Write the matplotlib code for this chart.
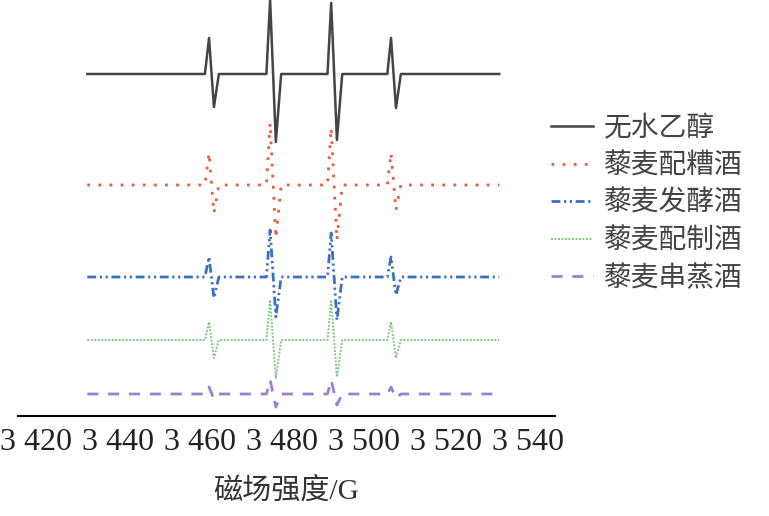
import matplotlib
matplotlib.use("Agg")
import matplotlib.pyplot as plt

plt.rcParams['font.family'] = ['Liberation Serif', 'Noto Sans CJK SC', 'DejaVu Sans']

# field positions (G) of the key points of the quartet
field = [3432.5,
         3461.2, 3462.2, 3463.4, 3464.6,
         3476.2, 3477.1, 3478.5, 3479.8,
         3491.1, 3492.0, 3493.4, 3494.7,
         3505.7, 3506.6, 3507.8, 3509.0,
         3533.0]

names = ['无水乙醇', '藜麦配糟酒', '藜麦发酵酒', '藜麦配制酒', '藜麦串蒸酒']

# signal amplitude relative to baseline (arb. units)
ethanol   = [0, 0, 36, -33, 0, 0, 74, -68, 0, 0, 71, -66, 0, 0, 36, -34, 0, 0]
peizao    = [0, 0, 32, -28, 0, 0, 62, -53, 0, 0, 57, -55, 0, 0, 32, -25, 0, 0]
fajiao    = [0, 0, 20, -21, 0, 0, 47, -40, 0, 0, 44, -43, 0, 0, 20, -18, 0, 0]
peizhi    = [0, 0, 18, -18, 0, 0, 40, -38, 0, 0, 40, -37, 0, 0, 18, -18, 0, 0]
chuanzheng = [0, 0, 7, -5, 0, 0, 14, -13, 0, 0, 14, -11, 0, 0, 7, -4, 0, 0]

series = [ethanol, peizao, fajiao, peizhi, chuanzheng]

xticks = [3420, 3440, 3460, 3480, 3500, 3520, 3540]
xticklabels = ['3 420', '3 440', '3 460', '3 480', '3 500', '3 520', '3 540']

offsets = [342, 231, 139, 76, 22]
colors = ['#454545', '#ee5a3c', '#3d6fc2', '#84c784', '#9a82cf']
styles = ['-', (0, (1, 3)), (0, (3.2, 1.3, 0.8, 1.3, 0.8, 1.3)), (0, (1, 0.8)), (0, (4, 3.5))]
widths = [1.8, 2.0, 2.0, 1.4, 2.0]

fig = plt.figure(figsize=(7.69, 5.16), dpi=100)
ax = fig.add_axes([18/769, 1 - 416/516, (555-18)/769, 416/516])

for vals, off, c, ls, lw, name in zip(series, offsets, colors, styles, widths, names):
    ax.plot(field, [v + off for v in vals], color=c, linestyle=ls, lw=lw,
            label=name, clip_on=False)

ax.set_xlim(3415.6, 3546.6)
ax.set_ylim(0, 416)
for s in ['top', 'right', 'left']:
    ax.spines[s].set_visible(False)
ax.spines['bottom'].set_linewidth(1.5)
ax.set_yticks([])
ax.set_xticks(xticks)
ax.set_xticklabels(xticklabels, fontsize=23, color='#222222')
ax.tick_params(axis='x', length=0, pad=9)
ax.set_xlabel('磁场强度/G', fontsize=21, color='#333333', labelpad=14)

leg = fig.legend(loc='center left', bbox_to_anchor=(551/769, 1 - 203/516),
                 frameon=False, borderpad=0, borderaxespad=0,
                 handlelength=1.5, handletextpad=0.4, labelspacing=0.27,
                 prop={'family': ['Noto Sans CJK SC'], 'size': 20})
for t in leg.get_texts():
    t.set_color('#444444')

fig.savefig('out.png', dpi=100)
